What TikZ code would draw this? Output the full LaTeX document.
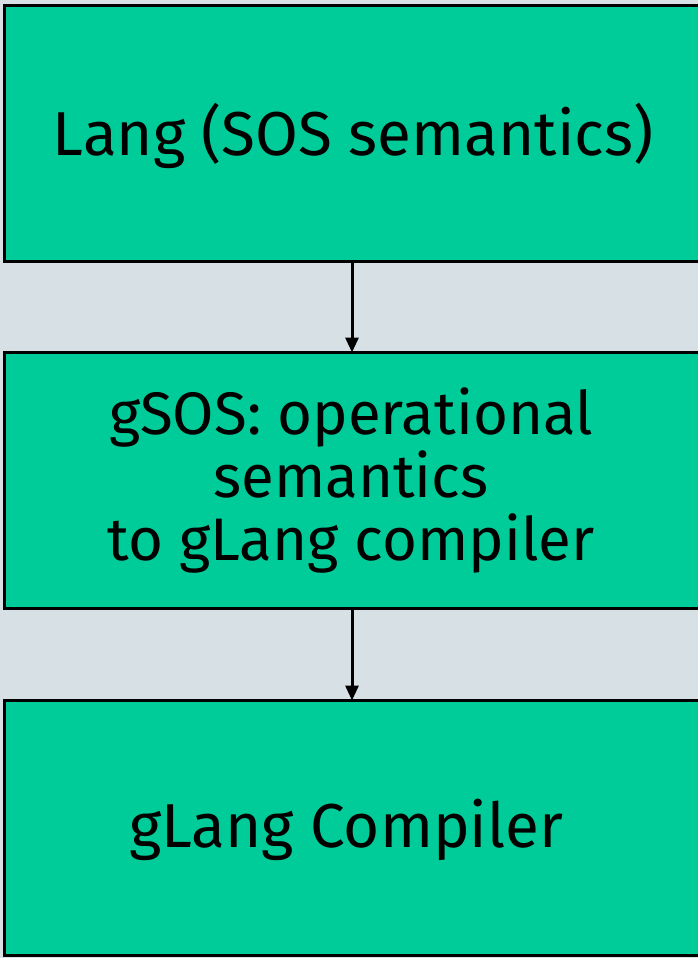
\documentclass[tikz,border=0pt]{standalone}
\usepackage{fontspec}
\setmainfont{Fira Sans}
\usetikzlibrary{arrows.meta}
\definecolor{bgc}{HTML}{D6E0E5}
\definecolor{boxc}{HTML}{00CC99}
\tikzset{
  stagebox/.style={draw=black, line width=3.5pt, fill=boxc},
  lbl/.style={align=center, inner sep=0pt, text=black},
  conn/.style={line width=3pt, -{Triangle[width=13pt,length=15pt]}},
}
\begin{document}
\begin{tikzpicture}[x=1pt,y=-1pt]
\useasboundingbox (0,0) rectangle (698,958);
\clip (0,0) rectangle (698,958);
\fill[bgc] (0,0) rectangle (698,958);
\draw[stagebox] (4.5,5.5) rectangle (702,261.5);
\draw[stagebox] (4.5,352.5) rectangle (702,608.5);
\draw[stagebox] (4.5,700.5) rectangle (702,955.5);
\coordinate (b1b) at (352,261.5);
\coordinate (b2t) at (352,352.5);
\coordinate (b2b) at (352,608.5);
\coordinate (b3t) at (352,700.5);
\node[lbl, font=\fontsize{62}{70}\selectfont] (t1) at (353,136) {Lang (SOS semantics)};
\node[lbl, font=\fontsize{60}{63}\selectfont] (t2) at (351,480) {gSOS: operational\\semantics\\to gLang compiler};
\node[lbl, font=\fontsize{62}{70}\selectfont] (t3) at (346,830) {gLang Compiler};
\draw[conn] (b1b) -- (b2t);
\draw[conn] (b2b) -- (b3t);
\end{tikzpicture}
\end{document}
